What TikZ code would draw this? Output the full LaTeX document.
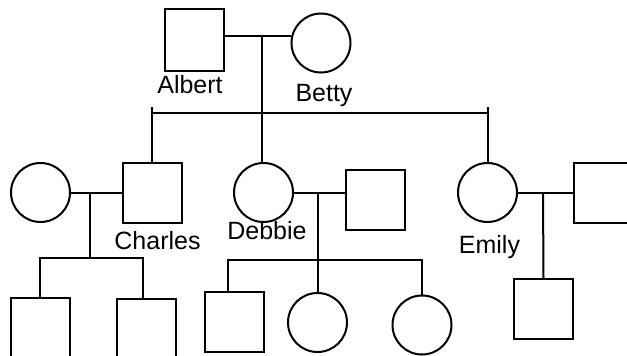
\documentclass[tikz,border=0pt]{standalone}
\usepackage{fontspec}
\setmainfont{Liberation Sans}
\begin{document}
\begin{tikzpicture}[x=1pt,y=-1pt,
  line width=2pt,
  male/.style={draw,rectangle,minimum width=59pt,minimum height=60pt,inner sep=0pt,line width=2pt},
  female/.style={draw,circle,minimum size=59pt,inner sep=0pt,line width=2pt},
  lbl/.style={font=\fontsize{25}{25}\selectfont,inner sep=0pt,anchor=base},
  link/.style={line width=2pt}]
\useasboundingbox (0,0) rectangle (627,356);
\clip (0,0) rectangle (627,356);
% generation 1
\node[male,minimum height=62pt] (albert) at (194.5,39.5) {};
\node[female] (betty) at (321,43) {};
\node[lbl] (albertL) at (190,93) {Albert};
\node[lbl] (bettyL) at (324,101) {Betty};
\coordinate (jAB) at (262,36);
\coordinate (sibTop) at (0,107);
\coordinate (sibY) at (0,113);
\draw[link] (albert.east |- jAB) -- (betty.west |- jAB);
% generation 2
\node[female] (cwife) at (40.5,192.5) {};
\node[male] (charles) at (152,192.5) {};
\node[lbl] (charlesL) at (157.5,249) {Charles};
\node[female] (debbie) at (263.5,192.5) {};
\node[male] (dhus) at (375,199.5) {};
\node[lbl] (debbieL) at (267,239) {Debbie};
\node[female] (emily) at (487.5,192.5) {};
\node[male] (ehus) at (603,193) {};
\node[lbl] (emilyL) at (489.5,253) {Emily};
\draw[link] (jAB) -- (jAB |- debbie.north);
\draw[link] (charles.north |- sibY) -- (emily.north |- sibY);
\draw[link] (charles.north) -- (charles.north |- sibTop);
\draw[link] (emily.north) -- (emily.north |- sibTop);
% Charles family
\coordinate (jC) at (90,192.5);
\coordinate (cKids) at (90,258);
\node[male] (c1) at (40,328) {};
\node[male] (c2) at (146.5,329) {};
\draw[link] (cwife.east) -- (charles.west);
\draw[link] (jC) -- (cKids);
\draw[link] (c1.north) -- (c1.north |- cKids) -- ([xshift=-3.5pt]c2.north |- cKids) -- ([xshift=-3.5pt]c2.north);
% Debbie family
\coordinate (jD) at (317.5,192.5);
\coordinate (dKids) at (317.5,260);
\node[male] (d1) at (234,322) {};
\node[female] (d2) at (317.5,322.5) {};
\node[female] (d3) at (422,325) {};
\draw[link] (debbie.east) -- (debbie.east -| dhus.west);
\draw[link] (jD) -- (d2.north);
\draw[link] ([xshift=-6pt]d1.north) -- ([xshift=-6pt]d1.north |- dKids) -- (d3.north |- dKids) -- (d3.north);
% Emily family
\coordinate (jE) at (543,192.5);
\node[male] (e1) at (543.5,309) {};
\draw[link] (emily.east) -- (emily.east -| ehus.west);
\draw[link] (jE) -- (e1.north);
\end{tikzpicture}
\end{document}
